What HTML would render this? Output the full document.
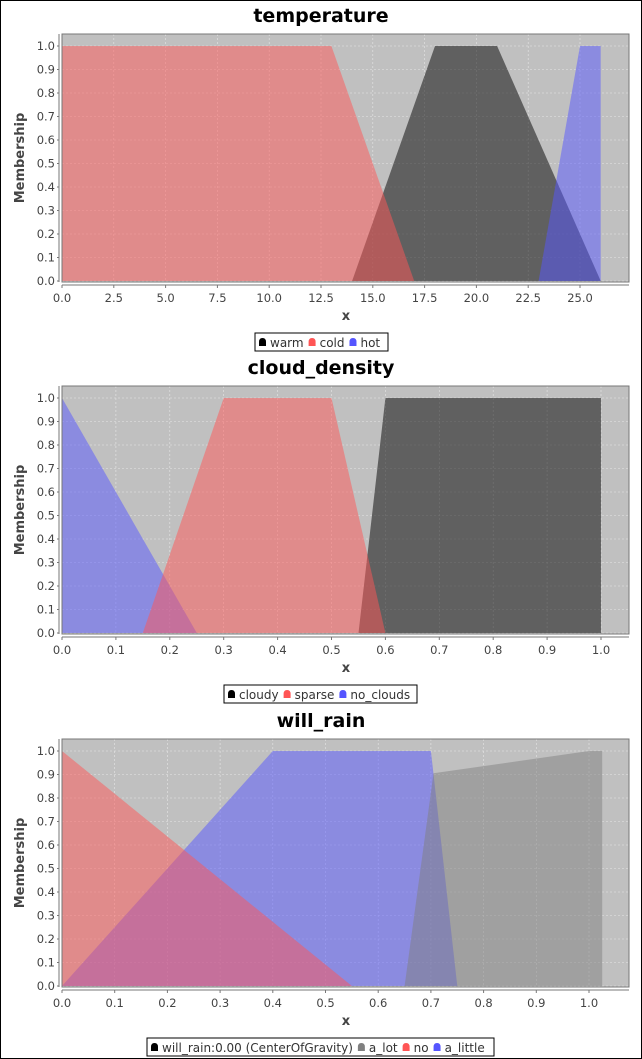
<!DOCTYPE html>
<html><head><meta charset="utf-8">
<style>
body{margin:0;background:#fff;}
svg{display:block;font-family:"DejaVu Sans","Liberation Sans",sans-serif;}
</style></head>
<body>
<svg id="c" width="642" height="1059" viewBox="0 0 642 1059" xmlns="http://www.w3.org/2000/svg">
<rect x="0.5" y="0.5" width="641" height="1058" fill="#fff" stroke="#000"/>
</svg>
<script>
// ---- data ----
const tempTicks = [0,2.5,5,7.5,10,12.5,15,17.5,20,22.5,25];
const tempTickLabels = ["0.0","2.5","5.0","7.5","10.0","12.5","15.0","17.5","20.0","22.5","25.0"];
const tempWarmX = [14,18,21,26]; const tempWarmY = [0,1,1,0];
const tempColdX = [0,0,13,17];   const tempColdY = [0,1,1,0];
const tempHotX = [23,25,26,26];  const tempHotY = [0,1,1,0];
const cloudTicks = [0,0.1,0.2,0.3,0.4,0.5,0.6,0.7,0.8,0.9,1.0];
const cloudTickLabels = ["0.0","0.1","0.2","0.3","0.4","0.5","0.6","0.7","0.8","0.9","1.0"];
const cloudCloudyX = [0.55,0.6,1,1]; const cloudCloudyY = [0,1,1,0];
const cloudSparseX = [0.15,0.3,0.5,0.6]; const cloudSparseY = [0,1,1,0];
const cloudNoX = [0,0,0.25]; const cloudNoY = [0,1,0];
const rainTicks = [0,0.1,0.2,0.3,0.4,0.5,0.6,0.7,0.8,0.9,1.0];
const rainTickLabels = ["0.0","0.1","0.2","0.3","0.4","0.5","0.6","0.7","0.8","0.9","1.0"];
const rainLotX = [0.65,0.705,1.0,1.025,1.025]; const rainLotY = [0,0.905,1,1,0];
const rainNoX = [0,0,0.55]; const rainNoY = [0,1,0];
const rainLittleX = [0,0.4,0.7,0.75]; const rainLittleY = [0,1,1,0];
const yTicks = [0,0.1,0.2,0.3,0.4,0.5,0.6,0.7,0.8,0.9,1.0];
const yTickLabels = ["0.0","0.1","0.2","0.3","0.4","0.5","0.6","0.7","0.8","0.9","1.0"];

const NS="http://www.w3.org/2000/svg";
const svg=document.getElementById('c');
function mk(tag,attrs,parent,text){const e=document.createElementNS(NS,tag);for(const k in attrs)e.setAttribute(k,attrs[k]);if(text!==undefined)e.textContent=text;(parent||svg).appendChild(e);return e;}

function chart(cfg){
  const g=mk('g',{});
  
  
  const L=62,R=629,T=cfg.top,B=cfg.top+248;
  const y0=B-1;
  const sy=v=>y0-(y0-(T+12))*v;
  const sx=v=>L+(cfg.x1px-L)*v/cfg.xUnit;
  const t=mk('text',{x:321,y:T-12,'text-anchor':'middle','font-size':'19','font-weight':'bold',fill:'#000'},g,cfg.title);
  
  
  const bg=mk('rect',{x:L,y:T,width:R-L,height:B-T,fill:'#c0c0c0'},g);
  
  
  cfg.ticks.forEach(v=>{mk('line',{x1:sx(v),x2:sx(v),y1:T,y2:B,stroke:'#e6e6e6','stroke-width':0.6,'stroke-dasharray':'2,2'},g);});
  yTicks.forEach(v=>{mk('line',{x1:L,x2:R,y1:sy(v),y2:sy(v),stroke:'#e6e6e6','stroke-width':0.6,'stroke-dasharray':'2,2'},g);});
  cfg.series.forEach(s=>{
    const pts=s.xs.map((x,i)=>sx(x).toFixed(1)+','+sy(s.ys[i]).toFixed(1)).join(' ');
    const p=mk('polygon',{points:pts,fill:s.color,'fill-opacity':0.5},g);
    
    
  });
  mk('rect',{x:L,y:T,width:R-L,height:B-T,fill:'none',stroke:'#777'},g);
  mk('line',{x1:L-3,x2:L-3,y1:T,y2:B,stroke:'#777'},g);
  mk('line',{x1:L,x2:R,y1:B+3,y2:B+3,stroke:'#777'},g);
  yTicks.forEach((v,i)=>{mk('line',{x1:L-5,x2:L-3,y1:sy(v),y2:sy(v),stroke:'#777'},g);
    const tl=mk('text',{x:L-7,y:sy(v)+4,'text-anchor':'end','font-size':'11.5',fill:'#444'},g,yTickLabels[i]);
    
    });
  cfg.ticks.forEach((v,i)=>{mk('line',{x1:sx(v),x2:sx(v),y1:B+3,y2:B+6,stroke:'#777'},g);
    const tl=mk('text',{x:sx(v),y:B+20,'text-anchor':'middle','font-size':'11.5',fill:'#444'},g,cfg.tickLabels[i]);
    
    });
  const yl=mk('text',{x:0,y:0,transform:`translate(24,${(T+B)/2}) rotate(-90)`,'text-anchor':'middle','font-size':'13','font-weight':'bold',fill:'#444'},g,'Membership');
  
  
  const xl=mk('text',{x:346,y:B+38,'text-anchor':'middle','font-size':'13','font-weight':'bold',fill:'#444'},g,'x');
  
  
  const lg=mk('g',{},g);
  
  
  mk('rect',{x:cfg.lx,y:B+51,width:cfg.lw,height:18,fill:'#fff',stroke:'#000'},lg);
  let x=cfg.lx+4;
  cfg.legend.forEach(e=>{
    const eg=mk('g',{},lg);
    
    
    mk('path',{d:`M${x},${B+64} L${x},${B+60} Q${x},${B+56} ${x+3.5},${B+56} Q${x+7},${B+56} ${x+7},${B+60} L${x+7},${B+64} Z`,fill:e.color},eg);
    const tt=mk('text',{x:x+11,y:B+65,'font-size':'12',fill:'#333'},eg,e.label);
    x+=11+tt.getComputedTextLength()+5;
  });
}

chart({name:'temperature',title:'temperature',top:34,x1px:580,xUnit:25,ticks:tempTicks,tickLabels:tempTickLabels,
  series:[{label:'warm',xs:tempWarmX,ys:tempWarmY,color:'#000'},{label:'hot',xs:tempHotX,ys:tempHotY,color:'#5555ff'},{label:'cold',xs:tempColdX,ys:tempColdY,color:'#ff5555'}],
  lx:255,lw:133,legend:[{label:'warm',color:'#000'},{label:'cold',color:'#ff5555'},{label:'hot',color:'#5555ff'}]});
chart({name:'cloud-density',title:'cloud_density',top:386,x1px:601,xUnit:1,ticks:cloudTicks,tickLabels:cloudTickLabels,
  series:[{label:'cloudy',xs:cloudCloudyX,ys:cloudCloudyY,color:'#000'},{label:'no_clouds',xs:cloudNoX,ys:cloudNoY,color:'#5555ff'},{label:'sparse',xs:cloudSparseX,ys:cloudSparseY,color:'#ff5555'}],
  lx:224,lw:193,legend:[{label:'cloudy',color:'#000'},{label:'sparse',color:'#ff5555'},{label:'no_clouds',color:'#5555ff'}]});
chart({name:'will-rain',title:'will_rain',top:739,x1px:589,xUnit:1,ticks:rainTicks,tickLabels:rainTickLabels,
  series:[{label:'a_little',xs:rainLittleX,ys:rainLittleY,color:'#5555ff'},{label:'no',xs:rainNoX,ys:rainNoY,color:'#ff5555'},{label:'a_lot',xs:rainLotX,ys:rainLotY,color:'#808080'}],
  lx:147,lw:347,legend:[{label:'will_rain:0.00 (CenterOfGravity)',color:'#000'},{label:'a_lot',color:'#808080'},{label:'no',color:'#ff5555'},{label:'a_little',color:'#5555ff'}]});
</script>
</body></html>
